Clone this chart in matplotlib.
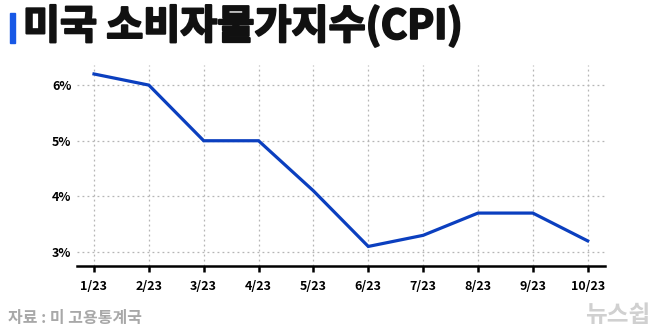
import numpy as np
import matplotlib.pyplot as plt
import matplotlib.patheffects as pe
from matplotlib.patches import Rectangle

plt.rcParams['font.family'] = ['Noto Sans CJK KR', 'DejaVu Sans']

# 미국 CPI (전년 동월 대비, %)
months = ['1/23', '2/23', '3/23', '4/23', '5/23', '6/23', '7/23', '8/23', '9/23', '10/23']
cpi = [6.2, 6.0, 5.0, 5.0, 4.1, 3.1, 3.3, 3.7, 3.7, 3.2]
yticks = [3, 4, 5, 6]
ytick_labels = ['3%', '4%', '5%', '6%']

LINE_BLUE = '#0b3fbf'
BAR_BLUE = '#1758e6'
GRID = '#b5b5b5'

fig = plt.figure(figsize=(6.58, 3.32), dpi=100)
ax = fig.add_axes([0.117, 0.199, 0.802, 0.605])

x = np.arange(len(months))
ax.plot(x, cpi, color=LINE_BLUE, lw=2.3, solid_joinstyle='miter', zorder=3)

ax.set_xlim(-0.31, len(months) - 1 + 0.31)
ax.set_ylim(2.75, 6.36)
ax.set_xticks(x)
ax.set_xticklabels(months)
ax.set_yticks(yticks)
ax.set_yticklabels(ytick_labels)

ax.grid(True, color=GRID, linestyle=(0, (1.5, 2.5)), lw=0.9)
for s in ['top', 'right', 'left']:
    ax.spines[s].set_visible(False)
ax.spines['bottom'].set_linewidth(1.8)
ax.tick_params(axis='x', direction='out', length=4, width=1.8, pad=6,
               labelsize=9)
ax.tick_params(axis='y', length=0, pad=4, labelsize=9)
for lab in ax.get_xticklabels() + ax.get_yticklabels():
    lab.set_fontweight('heavy')

# title
fig.patches.append(Rectangle((10 / 658, 1 - 43 / 332), 5 / 658, 30 / 332,
                             transform=fig.transFigure, color=BAR_BLUE))
fig.text(23 / 658, 1 - 27 / 332, '미국 소비자물가지수(CPI)', fontsize=29,
         fontweight=900, va='center', ha='left', color='#111111',
         path_effects=[pe.withStroke(linewidth=1.5, foreground='#111111')])

# source / logo
fig.text(8 / 658, 1 - 318 / 332, '자료 : 미 고용통계국', fontsize=11.5,
         fontweight='bold', color='#a8a8a8', va='center', ha='left')
fig.text(650 / 658, 1 - 315 / 332, '뉴스쉽', fontsize=17, fontweight=900,
         color='#d0d0d0', va='center', ha='right')

fig.savefig('out.png', dpi=100, facecolor='white')
